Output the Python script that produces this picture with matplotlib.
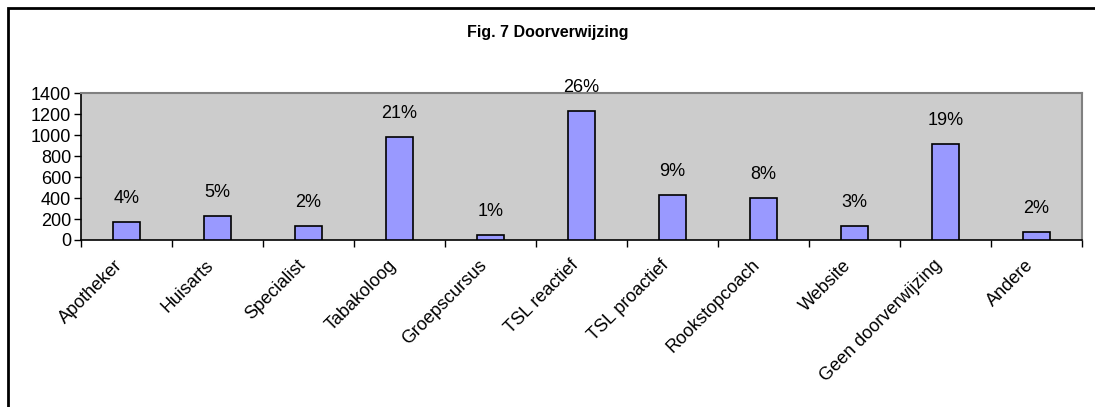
import matplotlib.pyplot as plt
import matplotlib.transforms as mtransforms
from matplotlib.patches import Rectangle

# data
categories = ['Apotheker', 'Huisarts', 'Specialist', 'Tabakoloog', 'Groepscursus',
              'TSL reactief', 'TSL proactief', 'Rookstopcoach', 'Website',
              'Geen doorverwijzing', 'Andere']
counts = [175, 226, 131, 983, 51, 1231, 430, 401, 134, 919, 80]
pct_labels = ['4%', '5%', '2%', '21%', '1%', '26%', '9%', '8%', '3%', '19%', '2%']
yticks = [0, 200, 400, 600, 800, 1000, 1200, 1400]

plt.rcParams['font.family'] = ['Liberation Sans', 'DejaVu Sans']
fs = 13

W, H = 1095, 407
fig = plt.figure(figsize=(W / 100, H / 100), dpi=100)
fig.patch.set_facecolor('white')

# outer chart frame (right and bottom run off the image)
fig.add_artist(Rectangle((8 / W, -0.1), 1.2, 1 - 8 / H + 0.1, transform=fig.transFigure,
                         fill=False, edgecolor='black', linewidth=2))

left, right, top, bottom = 81, 1082, 93.3, 240
ax = fig.add_axes([left / W, 1 - bottom / H, (right - left) / W, (bottom - top) / H])
ax.set_facecolor('#cccccc')

x = list(range(len(categories)))
ax.bar(x, counts, width=0.29, color='#9999ff', edgecolor='black', linewidth=1.2, zorder=3)

for xi, c, lab in zip(x, counts, pct_labels):
    ax.annotate(lab, (xi, c), xytext=(0, 17), textcoords='offset points',
                ha='center', va='center', fontsize=fs, clip_on=False)

ax.set_xlim(-0.5, len(categories) - 0.5)
ax.set_ylim(0, 1400)
ax.set_yticks(yticks)
ax.set_yticklabels([str(v) for v in yticks], fontsize=fs)

# category ticks sit between the bars
ax.set_xticks([i - 0.5 for i in range(len(categories) + 1)])
ax.set_xticklabels([])
ax.set_xticks(x, minor=True)
ax.set_xticklabels(categories, minor=True, rotation=45, ha='right',
                   rotation_mode='anchor', fontsize=fs)
ax.tick_params(axis='x', which='minor', length=0, pad=12)
ax.tick_params(axis='x', which='major', length=5, width=1, direction='out')
ax.tick_params(axis='y', length=5, width=1, direction='out', pad=2)
shift = mtransforms.ScaledTranslation(-12 / 100, 0, fig.dpi_scale_trans)
for t in ax.get_xticklabels(minor=True):
    t.set_transform(t.get_transform() + shift)

for s in ['top', 'right']:
    ax.spines[s].set_color('#808080')
    ax.spines[s].set_linewidth(1.5)
for s in ['left', 'bottom']:
    ax.spines[s].set_color('black')
    ax.spines[s].set_linewidth(1.2)

fig.text(0.5, 1 - 33 / H, 'Fig. 7 Doorverwijzing', ha='center', va='center',
         fontsize=11.5, fontweight='bold')

fig.savefig('out.png', dpi=100)
